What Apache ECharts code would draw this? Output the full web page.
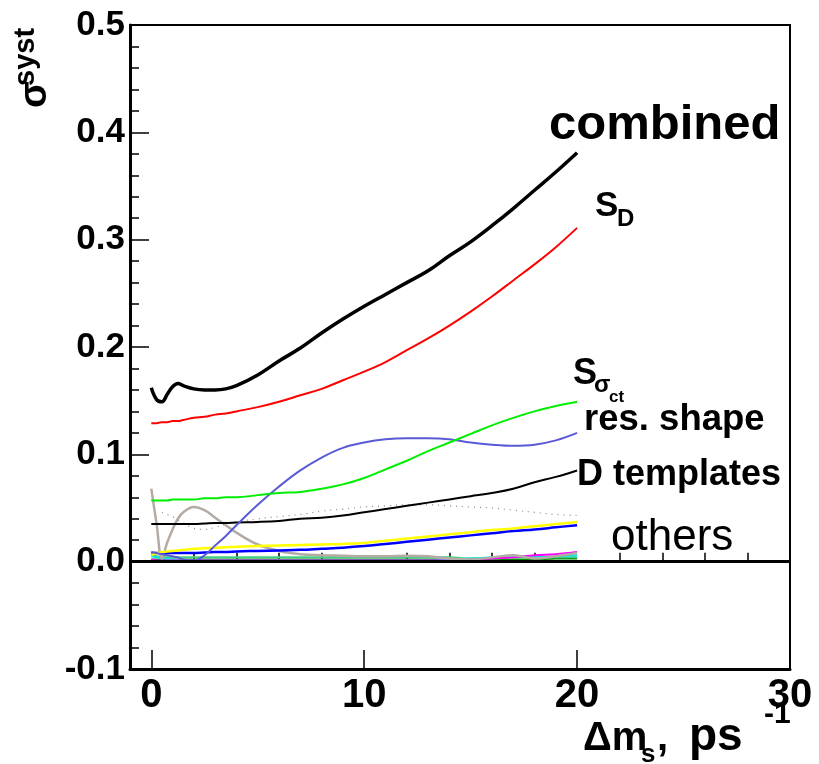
<!DOCTYPE html>
<html>
<head>
<meta charset="utf-8">
<script src="https://cdn.jsdelivr.net/npm/echarts@6/dist/echarts.min.js"></script>
<style>html,body{margin:0;padding:0;background:#fff;}#c{width:819px;height:764px;}</style>
</head>
<body>
<div id="c"></div>
<script>
// Δm_s grid (ps^-1)
const dms = [0,0.25,0.5,0.75,1,1.25,1.5,2,2.5,3,3.5,4,5,6,7,8,9,10,11,12,13,14,15,16,17,18,19,20];
// systematic uncertainties
const combined  = [0.162,0.151,0.149,0.156,0.163,0.166,0.164,0.161,0.160,0.160,0.161,0.164,0.174,0.187,0.199,0.213,0.226,0.238,0.249,0.260,0.271,0.285,0.298,0.313,0.329,0.346,0.363,0.381];
const sD        = [0.129,0.129,0.130,0.130,0.131,0.131,0.132,0.134,0.135,0.137,0.138,0.140,0.144,0.149,0.155,0.161,0.169,0.177,0.186,0.197,0.208,0.220,0.233,0.247,0.262,0.277,0.293,0.311];
const sSigmaCt  = [0.057,0.057,0.057,0.057,0.058,0.058,0.058,0.058,0.059,0.059,0.060,0.060,0.062,0.064,0.065,0.068,0.072,0.078,0.086,0.094,0.103,0.111,0.119,0.127,0.134,0.140,0.145,0.149];
const resShape  = [0.009,0.008,0.007,0.006,0.005,0.004,0.002,0.001,0.006,0.015,0.024,0.034,0.053,0.070,0.085,0.097,0.106,0.111,0.114,0.115,0.115,0.114,0.111,0.109,0.108,0.109,0.113,0.120];
const dTemplates= [0.035,0.035,0.035,0.035,0.035,0.035,0.035,0.035,0.0355,0.036,0.036,0.0365,0.037,0.038,0.040,0.041,0.043,0.046,0.049,0.052,0.055,0.058,0.061,0.064,0.068,0.074,0.079,0.085];
const dottedSyst= [null,null,0.046,0.044,0.042,0.039,0.036,0.031,0.030,0.032,0.035,0.037,0.040,0.042,0.044,0.047,0.049,0.051,0.052,0.053,0.053,0.052,0.051,0.050,0.048,0.046,0.044,0.043];
const greySyst  = [0.068,0.035,0.003,0.018,0.030,0.040,0.046,0.051,0.048,0.041,0.034,0.027,0.016,0.010,0.007,0.006,0.0055,0.005,0.005,0.0055,0.005,0.003,0.002,0.004,0.006,0.003,0.005,0.008];
const yellowSyst= [0.006,0.008,0.009,0.0095,0.010,0.0105,0.011,0.012,0.0125,0.013,0.0135,0.014,0.0145,0.015,0.0155,0.016,0.0165,0.0175,0.0195,0.0215,0.0235,0.0255,0.0275,0.0295,0.031,0.033,0.035,0.037];
const blueSyst  = [0.008,0.008,0.008,0.008,0.008,0.008,0.008,0.008,0.0085,0.009,0.009,0.0095,0.010,0.0105,0.011,0.012,0.013,0.0145,0.0165,0.0185,0.0205,0.0225,0.0245,0.0265,0.0285,0.030,0.032,0.034];
const magentaSyst=[0.002,0.001,0.001,0.001,0.001,0.001,0.001,0.001,0.001,0.001,0.001,0.001,0.001,0.001,0.001,0.001,0.001,0.001,0.001,0.001,0.001,0.001,0.002,0.003,0.004,0.006,0.007,0.009];
const cyanSyst  = [0.005,0.004,0.003,0.0025,0.002,0.0015,0.001,0.001,0.001,0.001,0.001,0.001,0.001,0.001,0.001,0.001,0.001,0.001,0.001,0.001,0.001,0.002,0.003,0.004,0.005,0.004,0.005,0.006];
const lgreenSyst= [0.006,0.005,0.004,0.004,0.004,0.004,0.004,0.004,0.004,0.004,0.004,0.004,0.004,0.004,0.004,0.004,0.004,0.004,0.004,0.004,0.004,0.004,0.003,0.003,0.004,0.004,0.004,0.004];
const dgreenSyst= [0.002,0.002,0.002,0.002,0.002,0.002,0.002,0.002,0.002,0.002,0.002,0.002,0.002,0.002,0.002,0.002,0.002,0.002,0.002,0.002,0.002,0.002,0.002,0.002,0.002,0.002,0.003,0.003];

// tick values
const xMajorTicks = [0,10,20,30];
const xMinorTicks = [2,4,6,8,12,14,16,18,22,24,26,28];

const F = 'Liberation Sans, Arial, Helvetica, sans-serif';
const pairs = arr => dms.map((x,i)=>[x,arr[i]]);
function line(name, arr, color, width, extra){
  return Object.assign({
    name, type:'line', data: pairs(arr), symbol:'none', smooth:0.4,
    lineStyle:{color, width}, itemStyle:{color}, connectNulls:false, silent:true
  }, extra||{});
}
function txt(x, y, text, font, extra){
  return Object.assign({type:'text', x, y, silent:true,
    style:{text, font: font+' '+F, fill:'#000', align:'left', verticalAlign:'middle'}}, extra||{});
}

const chart = echarts.init(document.getElementById('c'), null, {renderer:'canvas'});
chart.setOption({
  animation:false,
  backgroundColor:'#fff',
  grid:{left:130, right:29, top:25, bottom:95, show:true, borderColor:'#000', borderWidth:2, backgroundColor:'transparent'},
  xAxis:[{
    type:'value', min:-1, max:30, position:'bottom',
    axisLine:{onZero:false, lineStyle:{color:'#000', width:3}},
    axisTick:{inside:true, length:19, customValues:xMajorTicks, lineStyle:{color:'#000', width:1.5}},
    axisLabel:{customValues:xMajorTicks, color:'#000', fontSize:40, fontWeight:'bold', fontFamily:F, margin:7},
    splitLine:{show:false}
  },{
    type:'value', min:-1, max:30, position:'bottom',
    axisLine:{show:false},
    axisTick:{inside:true, length:9, customValues:xMinorTicks, lineStyle:{color:'#000', width:1.5}},
    axisLabel:{show:false},
    splitLine:{show:false}
  }],
  yAxis:{
    type:'value', min:-0.1, max:0.5, interval:0.1,
    axisLine:{onZero:false, lineStyle:{color:'#000', width:3}},
    axisTick:{inside:true, length:19, lineStyle:{color:'#000', width:1.5}},
    minorTick:{show:true, splitNumber:5, length:9, lineStyle:{color:'#000', width:1.5}},
    axisLabel:{color:'#000', fontSize:35, fontWeight:'bold', fontFamily:F, margin:5, formatter:v=>v.toFixed(1)},
    splitLine:{show:false}
  },
  series:[
    line('dgreen', dgreenSyst, '#009000', 2, {
      markLine:{silent:true, symbol:'none', label:{show:false}, animation:false,
        lineStyle:{color:'#000', width:3, type:'solid'}, data:[{yAxis:0}]}
    }),
    line('lgreen', lgreenSyst, '#40d080', 2),
    line('cyan', cyanSyst, '#00e8e8', 2),
    line('magenta', magentaSyst, '#ff00ff', 2),
    line('grey', greySyst, '#b4aca4', 2.5),
    line('blue', blueSyst, '#0000ff', 2.5),
    line('yellow', yellowSyst, '#ffff00', 2.5),
    line('dotted', dottedSyst, '#888888', 1.2, {lineStyle:{color:'#888', width:1.2, type:[1,5]}}),
    line('D templates', dTemplates, '#000000', 2),
    line('res. shape', resShape, '#5a5ad8', 2),
    line('S_sigma_ct', sSigmaCt, '#00ee00', 2),
    line('S_D', sD, '#ff0000', 2),
    line('combined', combined, '#000000', 3.5)
  ],
  graphic:[
    txt(35, 108, 'σ', 'bold 39px', {rotation:Math.PI/2}),
    txt(26, 86, 'syst', 'bold 29px', {rotation:Math.PI/2}),
    txt(549, 125, 'combined', 'bold 49px'),
    txt(595, 206, 'S', 'bold 35px'),
    txt(617, 219, 'D', 'bold 24px'),
    txt(573, 374, 'S', 'bold 36px'),
    txt(594, 385, 'σ', 'bold 24px'),
    txt(609, 397, 'ct', 'bold 17px'),
    txt(584, 420, 'res. shape', 'bold 36.5px'),
    txt(577, 475, 'D templates', 'bold 36px'),
    txt(611, 538, 'others', '44px'),
    txt(583, 739, 'Δm', 'bold 40px'),
    txt(641, 755, 's', 'bold 26px'),
    txt(657, 739, ',', 'bold 40px'),
    txt(689, 737, 'ps', 'bold 46px'),
    txt(764, 715, '-1', 'bold 30px')
  ]
});
</script>
</body>
</html>
